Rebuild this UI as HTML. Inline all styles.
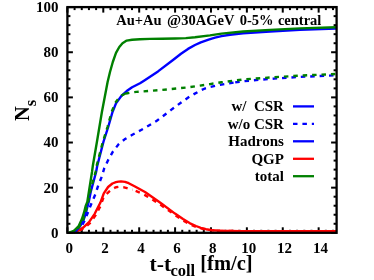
<!DOCTYPE html>
<html><head><meta charset="utf-8"><style>
html,body{margin:0;padding:0;background:#fff;}
svg{display:block;opacity:0.999;will-change:transform;}
text{font-family:"Liberation Serif",serif;font-weight:bold;fill:#000;white-space:pre;}
</style></head><body>
<svg width="374" height="280" viewBox="0 0 374 280">
<rect width="374" height="280" fill="#fff"/>
<g stroke="#000" stroke-width="2"><line x1="67.40" y1="232.8" x2="67.40" y2="227.3"/><line x1="67.40" y1="7.1" x2="67.40" y2="12.6"/><line x1="74.58" y1="232.8" x2="74.58" y2="229.8"/><line x1="74.58" y1="7.1" x2="74.58" y2="10.1"/><line x1="81.76" y1="232.8" x2="81.76" y2="229.8"/><line x1="81.76" y1="7.1" x2="81.76" y2="10.1"/><line x1="88.94" y1="232.8" x2="88.94" y2="229.8"/><line x1="88.94" y1="7.1" x2="88.94" y2="10.1"/><line x1="96.11" y1="232.8" x2="96.11" y2="229.8"/><line x1="96.11" y1="7.1" x2="96.11" y2="10.1"/><line x1="103.29" y1="232.8" x2="103.29" y2="227.3"/><line x1="103.29" y1="7.1" x2="103.29" y2="12.6"/><line x1="110.47" y1="232.8" x2="110.47" y2="229.8"/><line x1="110.47" y1="7.1" x2="110.47" y2="10.1"/><line x1="117.65" y1="232.8" x2="117.65" y2="229.8"/><line x1="117.65" y1="7.1" x2="117.65" y2="10.1"/><line x1="124.83" y1="232.8" x2="124.83" y2="229.8"/><line x1="124.83" y1="7.1" x2="124.83" y2="10.1"/><line x1="132.01" y1="232.8" x2="132.01" y2="229.8"/><line x1="132.01" y1="7.1" x2="132.01" y2="10.1"/><line x1="139.19" y1="232.8" x2="139.19" y2="227.3"/><line x1="139.19" y1="7.1" x2="139.19" y2="12.6"/><line x1="146.37" y1="232.8" x2="146.37" y2="229.8"/><line x1="146.37" y1="7.1" x2="146.37" y2="10.1"/><line x1="153.54" y1="232.8" x2="153.54" y2="229.8"/><line x1="153.54" y1="7.1" x2="153.54" y2="10.1"/><line x1="160.72" y1="232.8" x2="160.72" y2="229.8"/><line x1="160.72" y1="7.1" x2="160.72" y2="10.1"/><line x1="167.90" y1="232.8" x2="167.90" y2="229.8"/><line x1="167.90" y1="7.1" x2="167.90" y2="10.1"/><line x1="175.08" y1="232.8" x2="175.08" y2="227.3"/><line x1="175.08" y1="7.1" x2="175.08" y2="12.6"/><line x1="182.26" y1="232.8" x2="182.26" y2="229.8"/><line x1="182.26" y1="7.1" x2="182.26" y2="10.1"/><line x1="189.44" y1="232.8" x2="189.44" y2="229.8"/><line x1="189.44" y1="7.1" x2="189.44" y2="10.1"/><line x1="196.62" y1="232.8" x2="196.62" y2="229.8"/><line x1="196.62" y1="7.1" x2="196.62" y2="10.1"/><line x1="203.79" y1="232.8" x2="203.79" y2="229.8"/><line x1="203.79" y1="7.1" x2="203.79" y2="10.1"/><line x1="210.97" y1="232.8" x2="210.97" y2="227.3"/><line x1="210.97" y1="7.1" x2="210.97" y2="12.6"/><line x1="218.15" y1="232.8" x2="218.15" y2="229.8"/><line x1="218.15" y1="7.1" x2="218.15" y2="10.1"/><line x1="225.33" y1="232.8" x2="225.33" y2="229.8"/><line x1="225.33" y1="7.1" x2="225.33" y2="10.1"/><line x1="232.51" y1="232.8" x2="232.51" y2="229.8"/><line x1="232.51" y1="7.1" x2="232.51" y2="10.1"/><line x1="239.69" y1="232.8" x2="239.69" y2="229.8"/><line x1="239.69" y1="7.1" x2="239.69" y2="10.1"/><line x1="246.87" y1="232.8" x2="246.87" y2="227.3"/><line x1="246.87" y1="7.1" x2="246.87" y2="12.6"/><line x1="254.05" y1="232.8" x2="254.05" y2="229.8"/><line x1="254.05" y1="7.1" x2="254.05" y2="10.1"/><line x1="261.22" y1="232.8" x2="261.22" y2="229.8"/><line x1="261.22" y1="7.1" x2="261.22" y2="10.1"/><line x1="268.40" y1="232.8" x2="268.40" y2="229.8"/><line x1="268.40" y1="7.1" x2="268.40" y2="10.1"/><line x1="275.58" y1="232.8" x2="275.58" y2="229.8"/><line x1="275.58" y1="7.1" x2="275.58" y2="10.1"/><line x1="282.76" y1="232.8" x2="282.76" y2="227.3"/><line x1="282.76" y1="7.1" x2="282.76" y2="12.6"/><line x1="289.94" y1="232.8" x2="289.94" y2="229.8"/><line x1="289.94" y1="7.1" x2="289.94" y2="10.1"/><line x1="297.12" y1="232.8" x2="297.12" y2="229.8"/><line x1="297.12" y1="7.1" x2="297.12" y2="10.1"/><line x1="304.30" y1="232.8" x2="304.30" y2="229.8"/><line x1="304.30" y1="7.1" x2="304.30" y2="10.1"/><line x1="311.47" y1="232.8" x2="311.47" y2="229.8"/><line x1="311.47" y1="7.1" x2="311.47" y2="10.1"/><line x1="318.65" y1="232.8" x2="318.65" y2="227.3"/><line x1="318.65" y1="7.1" x2="318.65" y2="12.6"/><line x1="325.83" y1="232.8" x2="325.83" y2="229.8"/><line x1="325.83" y1="7.1" x2="325.83" y2="10.1"/><line x1="333.01" y1="232.8" x2="333.01" y2="229.8"/><line x1="333.01" y1="7.1" x2="333.01" y2="10.1"/><line x1="67.4" y1="232.80" x2="72.9" y2="232.80"/><line x1="336.6" y1="232.80" x2="331.1" y2="232.80"/><line x1="67.4" y1="223.77" x2="70.4" y2="223.77"/><line x1="336.6" y1="223.77" x2="333.6" y2="223.77"/><line x1="67.4" y1="214.74" x2="70.4" y2="214.74"/><line x1="336.6" y1="214.74" x2="333.6" y2="214.74"/><line x1="67.4" y1="205.72" x2="70.4" y2="205.72"/><line x1="336.6" y1="205.72" x2="333.6" y2="205.72"/><line x1="67.4" y1="196.69" x2="70.4" y2="196.69"/><line x1="336.6" y1="196.69" x2="333.6" y2="196.69"/><line x1="67.4" y1="187.66" x2="72.9" y2="187.66"/><line x1="336.6" y1="187.66" x2="331.1" y2="187.66"/><line x1="67.4" y1="178.63" x2="70.4" y2="178.63"/><line x1="336.6" y1="178.63" x2="333.6" y2="178.63"/><line x1="67.4" y1="169.60" x2="70.4" y2="169.60"/><line x1="336.6" y1="169.60" x2="333.6" y2="169.60"/><line x1="67.4" y1="160.58" x2="70.4" y2="160.58"/><line x1="336.6" y1="160.58" x2="333.6" y2="160.58"/><line x1="67.4" y1="151.55" x2="70.4" y2="151.55"/><line x1="336.6" y1="151.55" x2="333.6" y2="151.55"/><line x1="67.4" y1="142.52" x2="72.9" y2="142.52"/><line x1="336.6" y1="142.52" x2="331.1" y2="142.52"/><line x1="67.4" y1="133.49" x2="70.4" y2="133.49"/><line x1="336.6" y1="133.49" x2="333.6" y2="133.49"/><line x1="67.4" y1="124.46" x2="70.4" y2="124.46"/><line x1="336.6" y1="124.46" x2="333.6" y2="124.46"/><line x1="67.4" y1="115.44" x2="70.4" y2="115.44"/><line x1="336.6" y1="115.44" x2="333.6" y2="115.44"/><line x1="67.4" y1="106.41" x2="70.4" y2="106.41"/><line x1="336.6" y1="106.41" x2="333.6" y2="106.41"/><line x1="67.4" y1="97.38" x2="72.9" y2="97.38"/><line x1="336.6" y1="97.38" x2="331.1" y2="97.38"/><line x1="67.4" y1="88.35" x2="70.4" y2="88.35"/><line x1="336.6" y1="88.35" x2="333.6" y2="88.35"/><line x1="67.4" y1="79.32" x2="70.4" y2="79.32"/><line x1="336.6" y1="79.32" x2="333.6" y2="79.32"/><line x1="67.4" y1="70.30" x2="70.4" y2="70.30"/><line x1="336.6" y1="70.30" x2="333.6" y2="70.30"/><line x1="67.4" y1="61.27" x2="70.4" y2="61.27"/><line x1="336.6" y1="61.27" x2="333.6" y2="61.27"/><line x1="67.4" y1="52.24" x2="72.9" y2="52.24"/><line x1="336.6" y1="52.24" x2="331.1" y2="52.24"/><line x1="67.4" y1="43.21" x2="70.4" y2="43.21"/><line x1="336.6" y1="43.21" x2="333.6" y2="43.21"/><line x1="67.4" y1="34.18" x2="70.4" y2="34.18"/><line x1="336.6" y1="34.18" x2="333.6" y2="34.18"/><line x1="67.4" y1="25.16" x2="70.4" y2="25.16"/><line x1="336.6" y1="25.16" x2="333.6" y2="25.16"/><line x1="67.4" y1="16.13" x2="70.4" y2="16.13"/><line x1="336.6" y1="16.13" x2="333.6" y2="16.13"/><line x1="67.4" y1="7.10" x2="72.9" y2="7.10"/><line x1="336.6" y1="7.10" x2="331.1" y2="7.10"/></g>
<g fill="none" stroke-width="2.4" stroke-linejoin="round">
<path d="M72.0,232.6 L77.6,230.3 L81.9,225.5 L84.6,220.7 L87.8,212.7 L89.9,207.3 L92.2,201.6 L95.3,194.5 L98.1,185.9 L101.7,176.8 L104.3,168.2 L108.4,159.6 L112.9,151.6 L118.8,144.1 L124.6,139.3 L131.9,135.0 L140.7,130.2 L147.0,126.6 L156.8,120.8 L170.8,110.1 L181.5,102.2 L190.0,96.3 L194.4,93.9 L200.0,90.7 L205.0,88.5 L210.0,87.0 L221.5,84.6 L235.2,82.4" stroke="#0000ff" stroke-dasharray="4.5 4.91" stroke-dashoffset="-4.1"/>
<path d="M235.2,82.4 L243.0,81.2 L274.3,78.6 L300.0,76.9 L336.0,75.3" stroke="#0000ff" stroke-dasharray="4.5 4.91"/>
<path d="M73.5,232.6 L78.5,231.2 L84.3,228.0 L90.0,223.0 L95.7,215.0 L100.0,207.0 L103.3,198.2 L106.0,194.5 L109.4,191.3 L112.5,189.0 L115.9,187.3 L118.5,186.9 L121.0,186.9 L124.0,187.3 L127.0,188.1 L130.0,189.0 L132.5,189.8" stroke="#ff0000" stroke-dasharray="4.5 4.91" stroke-dashoffset="-6.15"/>
<path d="M132.5,189.8 L135.0,190.7 L140.0,192.8 L145.0,195.1 L152.0,199.3 L160.0,204.4 L168.0,210.0 L175.0,215.1 L183.0,220.4 L190.0,224.5 L196.0,226.9 L200.8,228.4 L206.0,229.5 L212.0,230.2 L220.0,230.8 L240.0,231.1 L336.0,231.1" stroke="#ff0000" stroke-dasharray="4.5 4.91" stroke-dashoffset="-3.36"/>
<path d="M72.5,232.6 L77.5,231.0 L83.2,227.6 L89.0,222.2 L94.7,213.8 L100.3,202.8 L103.8,193.4 L108.1,187.0 L112.4,183.5 L115.9,182.2 L118.5,181.6 L121.0,181.4 L125.0,181.9 L128.7,183.2 L135.0,186.5 L140.0,189.3 L145.0,192.0 L160.0,202.5 L175.0,213.6 L183.0,219.0 L190.0,223.3 L196.0,226.0 L200.8,227.8 L206.0,229.2 L212.0,230.2 L220.0,230.8 L240.0,231.1 L336.0,231.1" stroke="#ff0000"/>
<path d="M71.0,232.6 L76.0,230.9 L80.3,226.0 L83.5,220.2 L85.6,213.8 L87.3,207.3 L88.7,202.0 L90.7,192.0 L96.1,172.0 L97.2,166.0 L103.4,142.0 L108.2,127.0 L112.5,112.0 L116.0,103.4 L121.4,95.9 L126.7,91.1 L132.1,87.3 L140.0,83.3 L144.0,80.7 L158.0,71.4 L173.0,60.0 L181.0,53.8 L188.0,48.9 L195.0,45.0 L200.8,42.3 L208.6,39.6 L215.0,37.7 L221.5,36.1 L230.0,34.7 L243.0,33.2 L270.0,31.5 L300.0,29.8 L336.0,28.6" stroke="#0000ff"/>
<path d="M70.5,232.6 L75.5,230.9 L79.8,226.0 L83.0,220.2 L85.1,213.8 L86.8,207.3 L88.1,202.0 L90.1,192.0 L95.5,172.0 L96.6,166.0 L102.8,142.0 L107.5,127.0 L111.6,112.0 L115.3,102.8 L118.5,98.5 L121.9,95.4 L124.5,94.0 L125.0,93.9" stroke="#008000" stroke-dasharray="4.5 4.91" stroke-dashoffset="0.8"/>
<path d="M125.0,93.9 L127.3,93.2 L131.0,92.5 L136.4,91.9 L140.0,91.7 L162.0,89.9 L185.8,87.6 L200.0,85.6 L210.0,84.1 L221.5,82.3 L243.0,79.5 L274.3,77.2 L300.0,75.6 L336.0,74.0" stroke="#008000" stroke-dasharray="4.5 4.91" stroke-dashoffset="0"/>
<path d="M69.0,232.6 L73.9,230.9 L78.7,226.1 L81.9,219.1 L84.0,212.7 L85.6,206.3 L87.3,202.0 L92.0,172.0 L92.8,166.0 L96.9,142.0 L101.9,112.0 L107.6,82.0 L110.0,72.0 L112.8,62.0 L116.0,52.9 L119.3,47.0 L122.5,43.2 L126.7,40.6 L132.1,39.7 L139.9,39.3 L150.0,38.9 L162.0,38.7 L175.0,38.5 L185.8,38.1 L195.0,37.3 L210.0,35.4 L221.5,33.6 L243.0,31.5 L270.0,29.9 L300.0,28.4 L336.0,27.2" stroke="#008000"/>
</g>
<rect x="67.4" y="7.1" width="269.20000000000005" height="225.70000000000002" fill="none" stroke="#000" stroke-width="2.3"/>
<g font-size="15"><text x="69.2" y="253.2" text-anchor="middle">0</text><text x="105.1" y="253.2" text-anchor="middle">2</text><text x="141.0" y="253.2" text-anchor="middle">4</text><text x="176.9" y="253.2" text-anchor="middle">6</text><text x="212.8" y="253.2" text-anchor="middle">8</text><text x="248.7" y="253.2" text-anchor="middle">10</text><text x="284.6" y="253.2" text-anchor="middle">12</text><text x="320.5" y="253.2" text-anchor="middle">14</text><text x="58.6" y="237.6" text-anchor="end">0</text><text x="58.6" y="192.5" text-anchor="end">20</text><text x="58.6" y="147.3" text-anchor="end">40</text><text x="58.6" y="102.2" text-anchor="end">60</text><text x="58.6" y="57.0" text-anchor="end">80</text><text x="58.6" y="11.9" text-anchor="end">100</text><text x="283.9" y="111.3" text-anchor="end" xml:space="preserve">w/  CSR</text><line x1="293" y1="106.4" x2="314" y2="106.4" stroke="#0000ff" stroke-width="2.3"/><text x="283.9" y="128.8" text-anchor="end" xml:space="preserve">w/o CSR</text><line x1="293" y1="123.85" x2="314" y2="123.85" stroke="#0000ff" stroke-width="2.3" stroke-dasharray="4.5 4.91"/><text x="283.9" y="146.2" text-anchor="end" xml:space="preserve">Hadrons</text><line x1="293" y1="141.3" x2="314" y2="141.3" stroke="#0000ff" stroke-width="2.3"/><text x="283.9" y="163.7" text-anchor="end" xml:space="preserve">QGP</text><line x1="293" y1="158.8" x2="314" y2="158.8" stroke="#ff0000" stroke-width="2.3"/><text x="283.9" y="181.1" text-anchor="end" xml:space="preserve">total</text><line x1="293" y1="176.2" x2="314" y2="176.2" stroke="#008000" stroke-width="2.3"/>
<text y="24.7" font-size="14.5"><tspan x="116.3">Au+Au</tspan><tspan x="167.0" font-size="15.2">@</tspan><tspan x="181.3">30AGeV</tspan><tspan x="239.7">0-5%</tspan><tspan x="277.9">central</tspan></text>
</g>
<text transform="translate(28.5,121) rotate(-90)" font-size="20.5">N<tspan font-size="16.5" dy="7">s</tspan></text>
<text x="149.6" y="270.8" font-size="21.6">t-t<tspan font-size="16.5" dy="5.6" dx="-0.8">coll</tspan><tspan dy="-6.4" font-size="20.5"> [fm/c]</tspan></text>
</svg>
</body></html>
